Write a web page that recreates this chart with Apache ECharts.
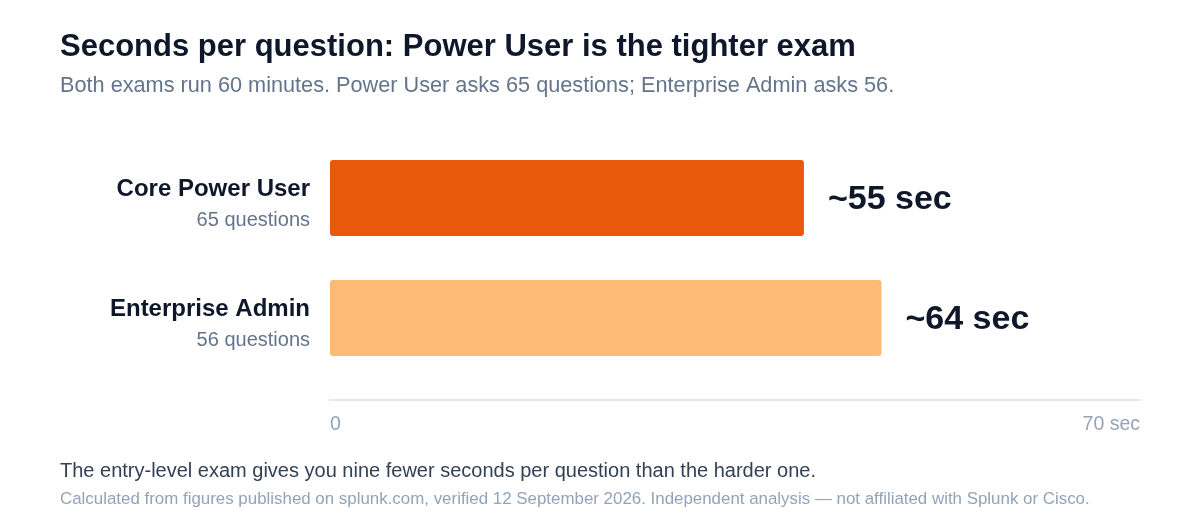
<!DOCTYPE html>
<html>
<head>
<meta charset="utf-8">
<title>Seconds per question</title>
<script src="https://cdn.jsdelivr.net/npm/echarts@6/dist/echarts.min.js"></script>
<style>
  html, body { margin: 0; padding: 0; background: #fff; }
  #main { width: 1200px; height: 520px; }
</style>
</head>
<body>
<div id="main"></div>
<script>
// data
var exams = ['Core Power User', 'Enterprise Admin'];
var questionCounts = [65, 56];
var secondsPerQuestion = [55, 64];
var barColors = ['#e8590c', '#fdba74'];
var tickLabels = ['0', '70 sec'];
var axisMax = 94;

var font = '"Liberation Sans", Arial, sans-serif';

// category axis runs top to bottom, so reverse it
var chart = echarts.init(document.getElementById('main'));
chart.setOption({
  animation: false,
  textStyle: { fontFamily: font },
  title: [
    {
      text: 'Seconds per question: Power User is the tighter exam',
      left: 60, top: 32, padding: 0,
      textStyle: { fontSize: 31, fontWeight: 'bold', color: '#0f172a', fontFamily: font }
    },
    {
      text: 'Both exams run 60 minutes. Power User asks 65 questions; Enterprise Admin asks 56.',
      left: 60, top: 75, padding: 0,
      textStyle: { fontSize: 21.7, fontWeight: 'normal', color: '#64748b', fontFamily: font }
    },
    {
      text: 'The entry-level exam gives you nine fewer seconds per question than the harder one.',
      left: 60, top: 461, padding: 0,
      textStyle: { fontSize: 20, fontWeight: 'normal', color: '#334155', fontFamily: font }
    },
    {
      text: 'Calculated from figures published on splunk.com, verified 12 September 2026. Independent analysis \u2014 not affiliated with Splunk or Cisco.',
      left: 60, top: 491, padding: 0,
      textStyle: { fontSize: 16.9, fontWeight: 'normal', color: '#94a3b8', fontFamily: font }
    }
  ],
  grid: { left: 330, right: 60, top: 138, height: 240 },
  xAxis: {
    type: 'value',
    min: 0, max: axisMax, interval: axisMax,
    offset: 22,
    splitLine: { show: false },
    axisLine: { show: true, lineStyle: { color: '#e2e8f0', width: 2 } },
    axisTick: { show: false },
    axisLabel: {
      color: '#94a3b8', fontSize: 19.5, margin: 15,
      alignMinLabel: 'left', alignMaxLabel: 'right',
      formatter: function (v) { return v === 0 ? tickLabels[0] : tickLabels[1]; }
    }
  },
  yAxis: {
    type: 'category',
    inverse: true,
    data: exams,
    axisLine: { show: false },
    axisTick: { show: false },
    axisLabel: {
      margin: 20,
      formatter: function (v, i) {
        return '{name|' + v + '}\n{sub|' + questionCounts[i] + ' questions}';
      },
      rich: {
        name: { fontSize: 24, fontWeight: 'bold', color: '#0f172a', lineHeight: 44, align: 'right', fontFamily: font },
        sub: { fontSize: 20, color: '#64748b', lineHeight: 17, align: 'right', fontFamily: font }
      }
    }
  },
  series: [{
    type: 'bar',
    barWidth: 76,
    data: secondsPerQuestion.map(function (v, i) {
      return { value: v, itemStyle: { color: barColors[i], borderRadius: 3 } };
    }),
    label: {
      show: true,
      position: 'right',
      distance: 24,
      offset: [0, 2],
      formatter: '~{c} sec',
      fontSize: 34, fontWeight: 'bold', color: '#0f172a', fontFamily: font
    }
  }]
});
</script>
</body>
</html>
